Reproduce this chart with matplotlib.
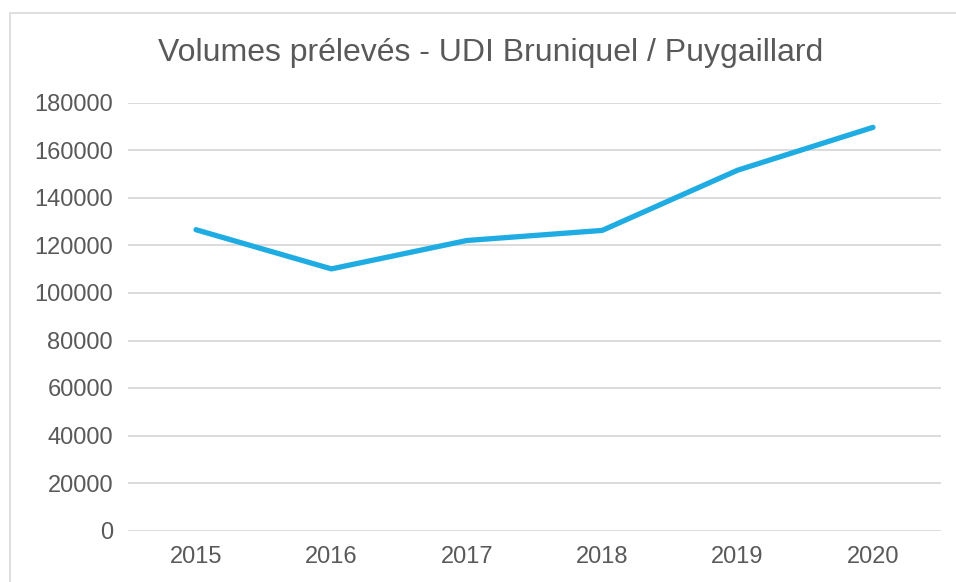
import matplotlib.pyplot as plt
from matplotlib.patches import Rectangle

years = ['2015', '2016', '2017', '2018', '2019', '2020']
volumes = [126650, 110150, 122100, 126350, 151700, 169750]
yticks = [0, 20000, 40000, 60000, 80000, 100000, 120000, 140000, 160000, 180000]

plt.rcParams['font.family'] = ['Liberation Sans', 'DejaVu Sans']
text_color = '#595959'
grid_color = '#D9D9D9'

fig = plt.figure(figsize=(9.56, 5.82), dpi=100)
ax = fig.add_axes([128.3 / 956, 1 - 530.5 / 582, (940.7 - 128.3) / 956, (530.5 - 103) / 582])

x = range(len(years))
ax.plot(x, volumes, color='#1FACE3', linewidth=3.8, solid_capstyle='round', solid_joinstyle='round')

ax.set_xlim(-0.5, len(years) - 0.5)
ax.set_ylim(0, 180000)
ax.set_xticks(list(x))
ax.set_xticklabels(years)
ax.set_yticks(yticks)
ax.set_yticklabels([str(v) for v in yticks])
ax.tick_params(axis='both', length=0, labelsize=17, colors=text_color)
ax.tick_params(axis='y', pad=11)
ax.tick_params(axis='x', pad=11)
ax.grid(axis='y', color=grid_color, linewidth=1.3)
ax.set_axisbelow(True)
for s in ax.spines.values():
    s.set_visible(False)

fig.text(491 / 956, 1 - 53 / 582, 'Volumes prélevés - UDI Bruniquel / Puygaillard',
         ha='center', va='center', fontsize=23, color=text_color)

# chart frame
fig.patches.append(Rectangle((10 / 956, -0.1), 1.2, 1.1 - 13 / 582, transform=fig.transFigure,
                             fill=False, edgecolor=grid_color, linewidth=1.2))

fig.savefig('out.png', dpi=100)
